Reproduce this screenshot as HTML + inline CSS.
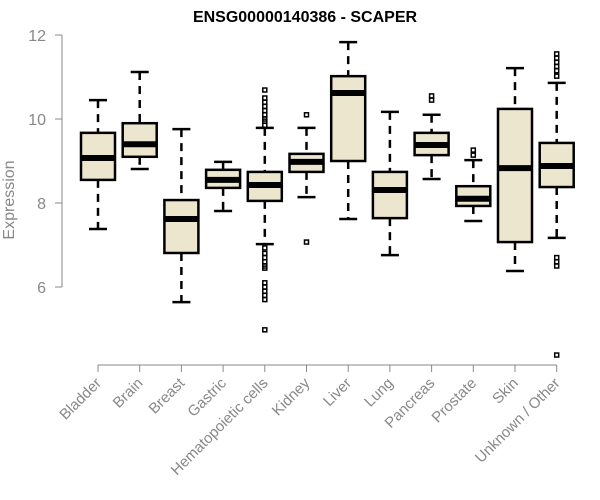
<!DOCTYPE html>
<html><head><meta charset="utf-8"><style>
body{margin:0;background:#fff}
svg{display:block;font-family:"Liberation Sans",Arial,sans-serif}
</style></head><body>
<svg id="chart" width="600" height="500">
<text x="305" y="22" text-anchor="middle" font-weight="bold" font-size="16">ENSG00000140386 - SCAPER</text>
<text transform="translate(14,200) rotate(-90)" text-anchor="middle" font-size="16" fill="#888">Expression</text>
<g id="axes"></g><g id="boxes"></g>
</svg>
<script>
const categories=["Bladder","Brain","Breast","Gastric","Hematopoietic cells","Kidney","Liver","Lung","Pancreas","Prostate","Skin","Unknown / Other"];
const whiskerHigh=[10.45,11.12,9.76,8.98,9.79,9.79,11.83,10.17,10.1,9.02,11.21,10.86];
const q3=[9.67,9.90,8.07,8.79,8.74,9.17,11.02,8.74,9.67,8.40,10.24,9.43];
const medians=[9.07,9.40,7.62,8.55,8.43,8.98,10.62,8.31,9.38,8.10,8.83,8.88];
const q1=[8.55,9.10,6.81,8.36,8.05,8.74,9.0,7.64,9.14,7.93,7.07,8.38];
const whiskerLow=[7.38,8.81,5.64,7.81,7.02,8.14,7.62,6.76,8.57,7.57,6.38,7.17];
const outliers=[[],[],[],[],[10.69,10.5,10.4,10.3,10.2,10.1,10.0,9.95,9.85,6.93,6.8,6.7,6.6,6.5,6.45,6.1,6.0,5.9,5.8,5.7,4.98],[10.1,7.07],[],[],[10.55,10.45],[9.26,9.14],[],[11.55,11.45,11.35,11.25,11.15,11.02,6.7,6.6,6.5,4.38]];
const yTicks=[6,8,10,12];
const NS="http://www.w3.org/2000/svg";
const y=v=>287-(v-6)*42;
const x=i=>98+i*41.7;
const axes=document.getElementById('axes'),boxes=document.getElementById('boxes');
function mk(tag,attrs,parent){const e=document.createElementNS(NS,tag);for(const k in attrs)e.setAttribute(k,attrs[k]);parent.appendChild(e);return e;}
let l=mk('line',{x1:62,x2:62,y1:y(12),y2:y(6),stroke:'#888'},axes);


yTicks.forEach(t=>{
 const tk=mk('line',{x1:55,x2:62,y1:y(t),y2:y(t),stroke:'#888'},axes);
 
 
 const tx=mk('text',{x:46,y:y(t)+6,'text-anchor':'end','font-size':16,fill:'#888'},axes);
 tx.textContent=t;
 
 
});
l=mk('line',{x1:x(0),x2:x(categories.length-1),y1:365,y2:365,stroke:'#888'},axes);


categories.forEach((c,i)=>{
 const cx=x(i);
 const tk=mk('line',{x1:cx,x2:cx,y1:365,y2:372,stroke:'#888'},axes);
 
 
 const tx=mk('text',{x:cx+4,y:384,'text-anchor':'end','font-size':15,fill:'#888',transform:`rotate(-45 ${cx+4} 384)`},axes);
 tx.textContent=c;
 
 
 const g=mk('g',{},boxes);
 
 
 mk('line',{x1:cx,x2:cx,y1:y(whiskerHigh[i]),y2:y(q3[i]),stroke:'#000','stroke-width':2.5,'stroke-dasharray':'8,6'},g);
 mk('line',{x1:cx,x2:cx,y1:y(q1[i]),y2:y(whiskerLow[i]),stroke:'#000','stroke-width':2.5,'stroke-dasharray':'8,6'},g);
 mk('line',{x1:cx-9,x2:cx+9,y1:y(whiskerHigh[i]),y2:y(whiskerHigh[i]),stroke:'#000','stroke-width':2.5},g);
 mk('line',{x1:cx-9,x2:cx+9,y1:y(whiskerLow[i]),y2:y(whiskerLow[i]),stroke:'#000','stroke-width':2.5},g);
 mk('rect',{x:cx-17,y:y(q3[i]),width:34,height:y(q1[i])-y(q3[i]),fill:'#ede6cf',stroke:'#000','stroke-width':2.5},g);
 mk('line',{x1:cx-17,x2:cx+17,y1:y(medians[i]),y2:y(medians[i]),stroke:'#000','stroke-width':6},g);
 outliers[i].forEach(v=>{
  const p=mk('rect',{x:cx-2,y:y(v)-2,width:4,height:4,fill:'none',stroke:'#000','stroke-width':1.5},g);
  
  
 });
});
</script>
</body></html>
